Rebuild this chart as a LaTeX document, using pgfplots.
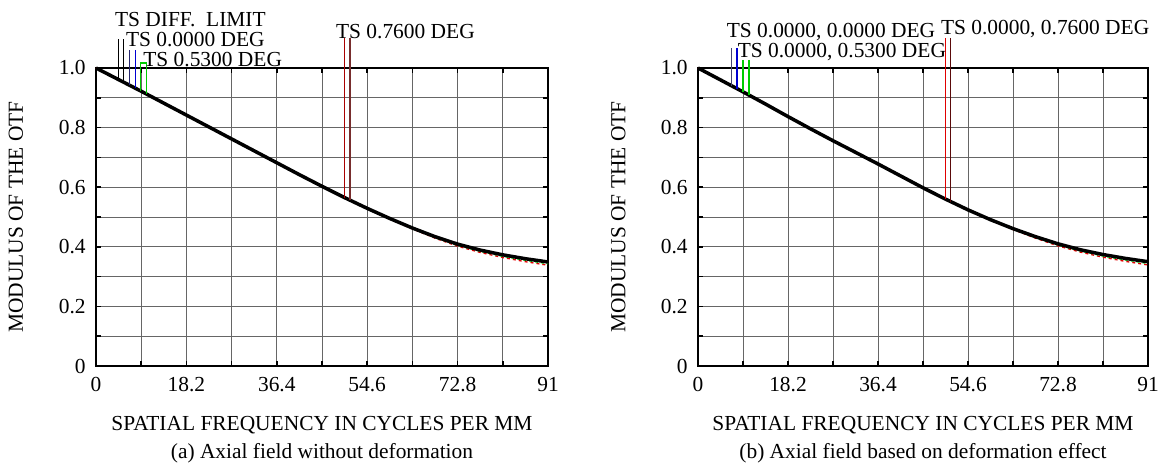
\documentclass[border=0pt]{standalone}
\usepackage{fontspec}
\setmainfont{Liberation Serif}
\usepackage{pgfplots}
\pgfplotsset{compat=1.18}

\definecolor{navyline}{RGB}{40,40,110}
\definecolor{blueline}{RGB}{0,0,210}
\definecolor{greenline}{RGB}{0,205,0}
\definecolor{redline}{RGB}{170,0,0}
\definecolor{brownline}{RGB}{120,45,45}
\definecolor{brightred}{RGB}{225,0,0}
\definecolor{darkred}{RGB}{90,10,10}

\pgfplotsset{
  mtf/.style={
    scale only axis, height=298bp,
    xmin=0, xmax=91, ymin=0, ymax=1,
    xtick={0,18.2,36.4,54.6,72.8,91},
    xticklabels={0,18.2,36.4,54.6,72.8,91},
    minor xtick={9.1,27.3,45.5,63.7,81.9},
    ytick={0,0.2,0.4,0.6,0.8,1.0},
    yticklabels={0,0.2,0.4,0.6,0.8,1.0},
    minor ytick={0.1,0.3,0.5,0.7,0.9},
    grid=both,
    major grid style={black!60, line width=0.9bp},
    minor grid style={black!60, line width=0.9bp},
    tick align=inside,
    major tick length=5bp, minor tick length=5bp,
    tick style={black, line width=1.5bp},
    axis line style={line width=1.9bp},
    clip=false,
    xticklabel style={yshift=-4bp},
    yticklabel style={xshift=-3bp},
    ylabel={MODULUS OF THE OTF},
    ylabel style={at={(axis description cs:-0.177,0.5)}, anchor=center},
    xlabel={SPATIAL FREQUENCY IN CYCLES PER MM},
    xlabel style={at={(axis description cs:0.5,-0.200)}, anchor=center},
  }
}

\begin{document}
\fontsize{21.5}{25}\selectfont
\begin{tikzpicture}
\useasboundingbox (0bp,0bp) rectangle (1161bp,469bp);

% (a) without deformation
\begin{axis}[mtf, at={(96bp,103bp)}, anchor=south west, width=452bp]
\addplot[brightred, dashed, line width=1.3bp] coordinates {
  (0,1.0) (9.1,0.922) (18.2,0.842) (27.3,0.762) (36.4,0.682) (45.5,0.603)
  (54.6,0.528) (59.15,0.493) (63.7,0.460) (68.25,0.429) (72.8,0.402)
  (77.35,0.381) (81.9,0.364) (86.45,0.350) (91,0.338)};
\addplot[greenline, dashed, line width=1.3bp] coordinates {
  (45.5,0.603) (54.6,0.528) (59.15,0.494) (63.7,0.461) (68.25,0.431)
  (72.8,0.405) (77.35,0.385) (81.9,0.368) (86.45,0.355) (91,0.343)};
\addplot[black, line width=3.5bp] coordinates {
  (0,1.0) (4.55,0.961) (9.1,0.922) (13.65,0.882) (18.2,0.842) (22.75,0.802)
  (27.3,0.762) (31.85,0.722) (36.4,0.682) (40.95,0.642) (45.5,0.603)
  (50.05,0.565) (54.6,0.529) (59.15,0.495) (63.7,0.463) (68.25,0.434)
  (72.8,0.409) (77.35,0.389) (81.9,0.373) (86.45,0.360) (91,0.349)};
% legend lines
\addplot[black, line width=1.4bp] coordinates {(4.5,1.097) (4.5,0.962)};
\addplot[black, line width=1.4bp] coordinates {(5.5,1.097) (5.5,0.953)};
\addplot[navyline, line width=1.4bp] coordinates {(6.8,1.060) (6.8,0.942)};
\addplot[blueline, line width=1.4bp] coordinates {(7.9,1.060) (7.9,0.933)};
\addplot[greenline, line width=1.4bp] coordinates {(9.0,0.923) (9.0,1.017) (10.2,1.017) (10.2,0.913)};
\addplot[redline, line width=1.4bp] coordinates {(50.0,1.100) (50.0,0.565)};
\addplot[brownline, line width=1.4bp] coordinates {(51.1,1.100) (51.1,0.557)};
\node[anchor=west, inner sep=0pt] at (axis cs:3.8,1.164) {TS DIFF.\ \ LIMIT};
\node[anchor=west, inner sep=0pt] at (axis cs:6.0,1.094) {TS 0.0000 DEG};
\node[anchor=west, inner sep=0pt] at (axis cs:9.5,1.027) {TS 0.5300 DEG};
\node[anchor=west, inner sep=0pt] at (axis cs:48.3,1.124) {TS 0.7600 DEG};
\node at (axis description cs:0.5,-0.292) {(a) Axial field without deformation};
\end{axis}

% (b) with deformation
\begin{axis}[mtf, at={(698bp,103bp)}, anchor=south west, width=450bp]
\addplot[brightred, dashed, line width=1.3bp] coordinates {
  (0,1.0) (9.1,0.920) (18.2,0.837) (27.3,0.756) (36.4,0.678) (45.5,0.598)
  (54.6,0.523) (59.15,0.489) (63.7,0.458) (68.25,0.429) (72.8,0.403)
  (77.35,0.382) (81.9,0.365) (86.45,0.351) (91,0.339)};
\addplot[greenline, dashed, line width=1.3bp] coordinates {
  (45.5,0.598) (54.6,0.523) (59.15,0.490) (63.7,0.459) (68.25,0.431)
  (72.8,0.406) (77.35,0.386) (81.9,0.369) (86.45,0.356) (91,0.344)};
\addplot[black, line width=3.5bp] coordinates {
  (0,1.0) (4.55,0.960) (9.1,0.920) (13.65,0.879) (18.2,0.837) (22.75,0.796)
  (27.3,0.756) (31.85,0.717) (36.4,0.678) (40.95,0.638) (45.5,0.598)
  (50.05,0.560) (54.6,0.524) (59.15,0.491) (63.7,0.461) (68.25,0.434)
  (72.8,0.410) (77.35,0.390) (81.9,0.374) (86.45,0.361) (91,0.350)};
\addplot[navyline!70!gray, line width=1.4bp] coordinates {(6.8,1.067) (6.8,0.940)};
\addplot[blueline, line width=1.4bp] coordinates {(7.9,1.067) (7.9,0.931)};
\addplot[greenline, line width=1.4bp] coordinates {(9.1,1.027) (9.1,0.920)};
\addplot[greenline, line width=1.4bp] coordinates {(10.3,1.027) (10.3,0.910)};
\addplot[brightred, line width=1.4bp] coordinates {(50.0,1.100) (50.0,0.560)};
\addplot[darkred, line width=1.4bp] coordinates {(51.1,1.100) (51.1,0.552)};
\node[anchor=west, inner sep=0pt] at (axis cs:5.8,1.121) {TS 0.0000, 0.0000 DEG};
\node[anchor=west, inner sep=0pt] at (axis cs:8.0,1.054) {TS 0.0000, 0.5300 DEG};
\node[anchor=west, inner sep=0pt] at (axis cs:49.1,1.131) {TS 0.0000, 0.7600 DEG};
\node at (axis description cs:0.5,-0.292) {(b) Axial field based on deformation effect};
\end{axis}
\end{tikzpicture}
\end{document}
